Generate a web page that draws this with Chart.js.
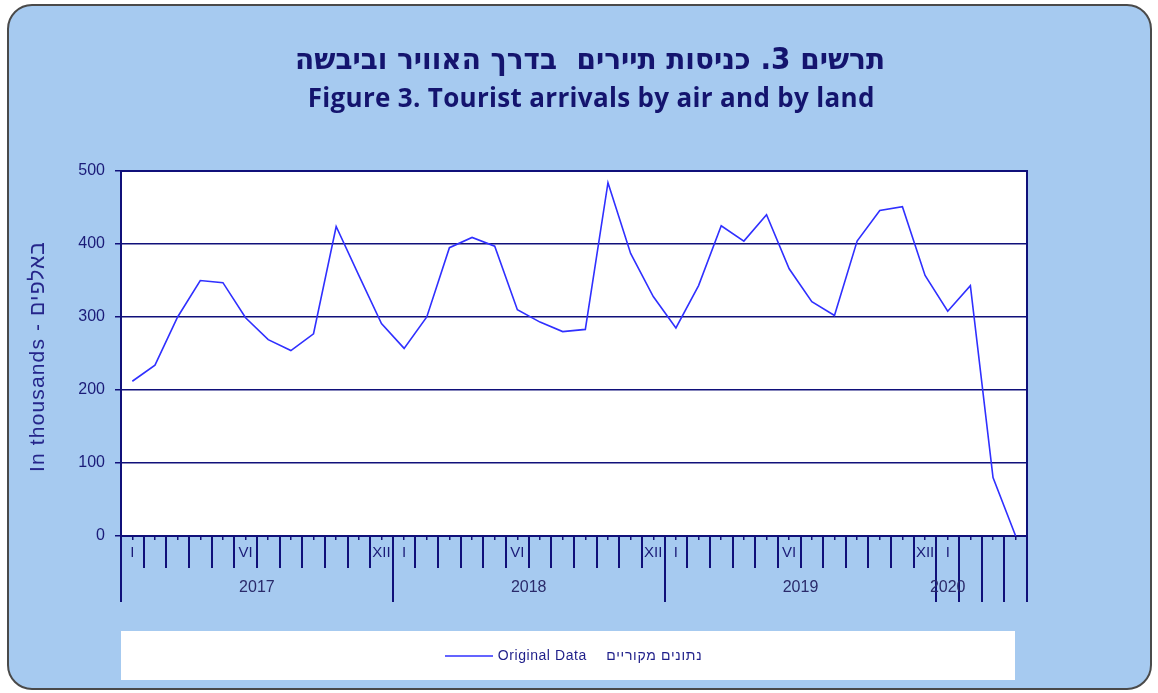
<!DOCTYPE html>
<html>
<head>
<meta charset="utf-8">
<script src="https://cdn.jsdelivr.net/npm/chart.js@4"></script>
<style>
  html, body { margin: 0; padding: 0; background: #ffffff; }
  #wrap { width: 1158px; height: 693px; }
</style>
</head>
<body>
<div id="wrap"><canvas id="arrivalsChart" width="1158" height="693"></canvas></div>
<script>
// months Jan 2017 .. Apr 2020
const months = [
  'I','II','III','IV','V','VI','VII','VIII','IX','X','XI','XII',
  'I','II','III','IV','V','VI','VII','VIII','IX','X','XI','XII',
  'I','II','III','IV','V','VI','VII','VIII','IX','X','XI','XII',
  'I','II','III','IV'
];
const shownMonths = ['I', 'VI', 'XII'];
const years = ['2017', '2018', '2019', '2020'];
// tourist arrivals, thousands
const arrivals = [
  212, 234, 300, 350, 347, 299, 269, 254, 277, 424, 357, 291,
  257, 300, 395, 409, 397, 310, 293, 280, 283, 484, 387, 328,
  285, 343, 425, 404, 440, 366, 321, 302, 404, 446, 451, 357,
  308, 343, 80, 0
];
const yTicks = [0, 100, 200, 300, 400, 500];

const navy = '#10107a';
const textNavy = '#1b1b78';

// draw text stretched (or squeezed) to a given width
function spacedText(ctx, text, cx, cy, width) {
  ctx.letterSpacing = '0px';
  const w = ctx.measureText(text).width;
  const sp = Math.max(0, (width - w) / text.length);
  ctx.letterSpacing = sp.toFixed(2) + 'px';
  ctx.textAlign = 'center';
  ctx.textBaseline = 'middle';
  ctx.fillText(text, cx + sp / 2, cy, width + sp);
  ctx.letterSpacing = '0px';
}

const framePlugin = {
  id: 'frame',
  beforeDraw(chart) {
    const ctx = chart.ctx;
    const a = chart.chartArea;
    ctx.save();
    ctx.fillStyle = '#a6caf0';
    ctx.strokeStyle = '#4a4a4a';
    ctx.lineWidth = 2;
    ctx.beginPath();
    ctx.roundRect(8, 5, 1143, 684, 24);
    ctx.fill();
    ctx.stroke();
    ctx.fillStyle = '#ffffff';
    ctx.fillRect(a.left, a.top, a.right - a.left, a.bottom - a.top);
    ctx.fillRect(121, 631, 894, 49);
    ctx.restore();
  },
  afterDraw(chart) {
    const ctx = chart.ctx;
    const a = chart.chartArea;
    const x = chart.scales.x;
    ctx.save();
    // titles
    ctx.fillStyle = '#14146e';
    ctx.font = 'bold 30px "DejaVu Sans"';
    spacedText(ctx, 'תרשים 3. כניסות תיירים  בדרך האוויר וביבשה', 590, 61, 590);
    ctx.font = 'bold 26px "Open Sans"';
    spacedText(ctx, 'Figure 3. Tourist arrivals by air and by land', 591, 100, 567);

    // plot border top/right
    ctx.strokeStyle = navy;
    ctx.lineWidth = 2;
    ctx.beginPath();
    ctx.moveTo(a.left, a.top);
    ctx.lineTo(a.right, a.top);
    ctx.lineTo(a.right, a.bottom);
    ctx.stroke();

    // category separators below the axis
    const n = months.length;
    const step = (a.right - a.left) / n;
    ctx.lineWidth = 2;
    for (let i = 0; i <= n; i++) {
      const px = Math.round(a.left + i * step);
      const long = i % 12 === 0 || i > 36;
      ctx.beginPath();
      ctx.moveTo(px, a.bottom);
      ctx.lineTo(px, a.bottom + (long ? 66 : 32));
      ctx.stroke();
    }

    // year labels
    ctx.fillStyle = '#2a2a6a';
    ctx.font = '16px Arial';
    ctx.textAlign = 'center';
    ctx.textBaseline = 'middle';
    years.forEach((yr, k) => {
      const first = k * 12;
      const last = Math.min(first + 11, n - 1);
      let cx = (x.getPixelForValue(first) + x.getPixelForValue(last)) / 2;
      if (last - first < 11) cx = x.getPixelForValue(first);
      ctx.fillText(yr, cx, 588);
    });

    // y axis title
    ctx.save();
    ctx.translate(38, 357);
    ctx.rotate(-Math.PI / 2);
    ctx.fillStyle = '#25258a';
    ctx.font = '21px Arial';
    spacedText(ctx, 'In thousands - באלפים', 0, 0, 231);
    ctx.restore();

    // legend
    const ds = chart.data.datasets[0];
    ctx.strokeStyle = ds.borderColor;
    ctx.lineWidth = 1.5;
    ctx.beginPath();
    ctx.moveTo(445, 656);
    ctx.lineTo(493, 656);
    ctx.stroke();
    ctx.fillStyle = '#1f1f8a';
    ctx.font = '14px Arial';
    spacedText(ctx, ds.label, 542, 656, 89);
    spacedText(ctx, 'נתונים מקוריים', 654, 656, 96);
    ctx.restore();
  }
};

new Chart(document.getElementById('arrivalsChart').getContext('2d'), {
  type: 'line',
  data: {
    labels: months,
    datasets: [{
      label: 'Original Data',
      data: arrivals,
      borderColor: '#3030ff',
      borderWidth: 1.6,
      pointRadius: 0,
      tension: 0,
      fill: false
    }]
  },
  options: {
    responsive: false,
    animation: false,
    layout: { padding: { left: 0, top: 171, right: 131, bottom: 91 } },
    plugins: {
      legend: { display: false },
      tooltip: { enabled: false }
    },
    scales: {
      x: {
        offset: true,
        afterFit(scale) { scale.height = 66; },
        grid: {
          display: true,
          offset: false,
          drawOnChartArea: false,
          tickLength: 4,
          color: navy,
          lineWidth: 1.5
        },
        border: { color: navy, width: 2 },
        ticks: {
          autoSkip: false,
          maxRotation: 0,
          padding: 4,
          color: textNavy,
          font: { family: 'Arial', size: 15 },
          callback(value, index) {
            const m = months[index];
            return shownMonths.includes(m) ? m : '';
          }
        }
      },
      y: {
        min: 0,
        max: 500,
        afterFit(scale) { scale.width = 121; },
        afterBuildTicks(scale) { scale.ticks = yTicks.map(v => ({ value: v })); },
        grid: { color: navy, lineWidth: 1.5, tickLength: 6 },
        border: { color: navy, width: 2 },
        ticks: {
          padding: 10,
          color: textNavy,
          font: { family: 'Arial', size: 16 }
        }
      }
    }
  },
  plugins: [framePlugin]
});
</script>
</body>
</html>
